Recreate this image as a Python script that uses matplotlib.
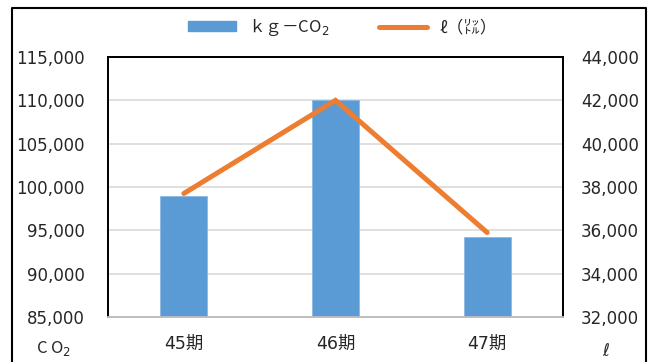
import matplotlib.pyplot as plt
from matplotlib.patches import Patch
from matplotlib.lines import Line2D

plt.rcParams['font.family'] = ['DejaVu Sans', 'Noto Sans CJK JP']
cjk_first = ['Noto Sans CJK JP', 'DejaVu Sans']

# data
periods = ['45期', '46期', '47期']
co2_kg = [99000, 110000, 94200]
liters = [37700, 42000, 35900]

left_ticks = [85000, 90000, 95000, 100000, 105000, 110000, 115000]
right_ticks = [32000, 34000, 36000, 38000, 40000, 42000, 44000]

bar_color = '#5B9BD5'
line_color = '#ED7D31'
text_color = '#262626'

fig = plt.figure(figsize=(6.48, 3.62), dpi=100)
ax = fig.add_axes([108 / 648, 1 - 317 / 362, 455 / 648, 260 / 362])
ax2 = ax.twinx()

x = range(len(periods))
ax.bar(x, co2_kg, width=0.31, color=bar_color, edgecolor='#8DB8E3',
       linewidth=0.6, zorder=3)
ax2.plot(x, liters, color=line_color, linewidth=3.6,
         solid_capstyle='round', solid_joinstyle='miter', zorder=4)

ax.set_xlim(-0.5, 2.5)
ax.set_ylim(85000, 115000)
ax2.set_ylim(32000, 44000)
ax.set_yticks(left_ticks)
ax2.set_yticks(right_ticks)
ax.set_yticklabels([f'{v:,}' for v in left_ticks])
ax2.set_yticklabels([f'{v:,}' for v in right_ticks])
ax.set_xticks(list(x))
ax.set_xticklabels(periods)

ax.grid(axis='y', color='#D9D9D9', linewidth=1.2, zorder=0)
ax.set_axisbelow(True)

ax.tick_params(axis='both', length=0, labelsize=12, colors=text_color)
ax.tick_params(axis='y', pad=17)
ax.tick_params(axis='x', pad=13, labelsize=12.5)
ax2.tick_params(axis='y', length=0, labelsize=12, colors=text_color, pad=13)

for a in (ax, ax2):
    for side in ('left', 'right', 'top'):
        a.spines[side].set_color('black')
        a.spines[side].set_linewidth(1.3)
    a.spines['bottom'].set_color('#BFBFBF')
    a.spines['bottom'].set_linewidth(1.3)

# axis unit labels under the tick columns
fig.text(54 / 648, 1 - 349 / 362, 'C O$_2$', fontsize=12, ha='center',
         va='center', color=text_color, family=cjk_first)
fig.text(606 / 648, 1 - 351 / 362, 'ℓ', fontsize=12, ha='center',
         va='center', color=text_color, style='italic')

handles = [Patch(facecolor=bar_color, edgecolor=bar_color),
           Line2D([0], [0], color=line_color, linewidth=3.6,
                  solid_capstyle='round')]
fig.legend(handles, ['ｋｇ－CO$_2$', 'ℓ（㍑）'], loc='center',
           bbox_to_anchor=(0.528, 1 - 28 / 362), ncol=2, frameon=False,
           prop={'family': cjk_first, 'size': 12}, handlelength=2.9,
           handleheight=0.5, handletextpad=0.7, columnspacing=3.0,
           labelcolor=text_color)

# outer chart frame
frame = Line2D([12 / 648, 12 / 648, 646 / 648, 646 / 648],
               [-0.1, 1 - 8 / 362, 1 - 8 / 362, -0.1],
               transform=fig.transFigure, color='black', linewidth=1.5)
fig.add_artist(frame)

fig.savefig('out.png', dpi=100)
